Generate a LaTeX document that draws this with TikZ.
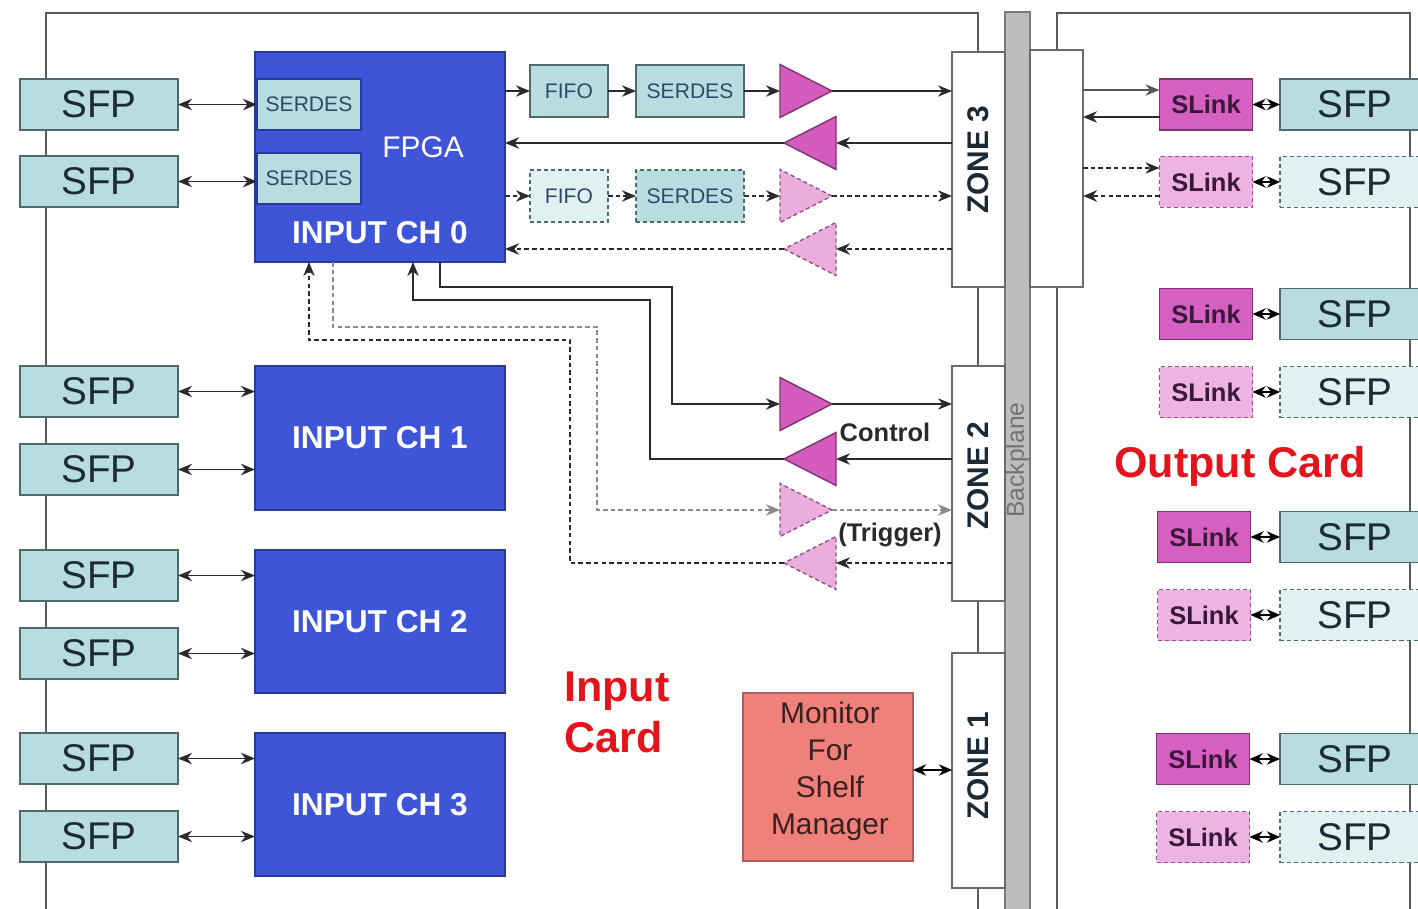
\documentclass[tikz,border=0pt]{standalone}
\usepackage{fontspec}
\setmainfont{Liberation Sans}
\usetikzlibrary{arrows.meta,shapes.geometric}
\definecolor{sfpfill}{HTML}{B8DDE1}
\definecolor{sfpfilld}{HTML}{E0F1F2}
\definecolor{sfpline}{HTML}{4F6A6E}
\definecolor{sfptext}{HTML}{1C2A36}
\definecolor{smalltext}{HTML}{2E4A66}
\definecolor{fpgablue}{HTML}{3E55D8}
\definecolor{fpgaline}{HTML}{2A3A9A}
\definecolor{trifill}{HTML}{D35CBE}
\definecolor{trifilld}{HTML}{EBADDC}
\definecolor{triline}{HTML}{7E3472}
\definecolor{trilined}{HTML}{93508A}
\definecolor{slfill}{HTML}{D660C2}
\definecolor{slfilld}{HTML}{EDB3E2}
\definecolor{sltext}{HTML}{3A1838}
\definecolor{mon}{HTML}{F0817A}
\definecolor{monline}{HTML}{B25E5E}
\definecolor{montext}{HTML}{3A2020}
\definecolor{cardline}{HTML}{5A5A5A}
\definecolor{zoneline}{HTML}{6A6A6A}
\definecolor{bpfill}{HTML}{BDBDBD}
\definecolor{bpline}{HTML}{7A7A7A}
\definecolor{redtxt}{HTML}{E3141B}
\definecolor{conn}{HTML}{2A2A2A}
\definecolor{connlight}{HTML}{8A8A8A}
\newcommand\myfs[2]{\fontsize{#1pt}{#2pt}\selectfont}
\begin{document}
\begin{tikzpicture}[x=0.02cm,y=-0.02cm,
 sz/.style 2 args={minimum width=#1*0.02cm, minimum height=#2*0.02cm},
 box/.style={rectangle, inner sep=0pt, outer sep=0pt, line width=0.9pt},
 sfpbox/.style={box, sz={158}{51}, draw=sfpline, fill=sfpfill, text=sfptext, font=\myfs{22}{24}},
 sfpdash/.style={sfpbox, fill=sfpfilld, dash pattern=on 2.3pt off 1.7pt},
 chan/.style={box, draw=fpgaline, fill=fpgablue, text=white, font=\bfseries\myfs{18}{20}},
 smallbox/.style={box, draw=sfpline, fill=sfpfill, text=smalltext, font=\myfs{12}{14}},
 smalldash/.style={smallbox, dash pattern=on 2.3pt off 1.7pt},
 tri/.style={isosceles triangle, isosceles triangle stretches, sz={53}{52}, inner sep=0pt, outer sep=0pt, line width=0.8pt, draw=triline, fill=trifill},
 tridash/.style={tri, draw=trilined, fill=trifilld, dash pattern=on 2.3pt off 1.7pt},
 trileft/.style={shape border rotate=180},
 zonebox/.style={box, sz={53}{235}, draw=zoneline, fill=white, line width=0.8pt},
 zonetxt/.style={rotate=90, font=\bfseries\myfs{17}{19}, text=sfptext},
 slbox/.style={box, sz={93}{51}, draw=triline, fill=slfill, text=sltext, font=\bfseries\myfs{14.5}{16}},
 sldash/.style={slbox, draw=trilined, fill=slfilld, dash pattern=on 2.3pt off 1.7pt},
 arr/.style={draw=conn, line width=0.8pt, -{Stealth[length=8pt,width=6.5pt]}},
 arrthick/.style={arr, line width=1.4pt},
 darr/.style={arr, dash pattern=on 2.6pt off 1.8pt},
 darrthick/.style={darr, line width=1.3pt},
 lightdarr/.style={darr, draw=connlight},
 biarr/.style={draw=conn, line width=0.8pt, {Stealth[length=8pt,width=6.5pt]}-{Stealth[length=8pt,width=6.5pt]}},
 sbiarr/.style={draw=black, line width=0.8pt, {Stealth[length=7.5pt,width=6.5pt]}-{Stealth[length=7.5pt,width=6.5pt]}},
 card/.style={draw=cardline, line width=1.1pt},
 redlbl/.style={text=redtxt, font=\bfseries\myfs{24.5}{29}},
 lbl/.style={text=conn, font=\bfseries\myfs{14.5}{17}}
]
\useasboundingbox (0,0) rectangle (1418,909);
\clip (0,0) rectangle (1418,909);

% card outlines
\draw[card] (46,915) -- (46,13) -- (978,13) -- (978,915);
\draw[card] (1057,915) -- (1057,13) -- (1410,13) -- (1410,915);

% backplane
\node[box, draw=bpline, fill=bpfill, sz={25}{905}, anchor=north west] (bp) at (1005,12) {};
\node[rotate=90, text=black!55, font=\myfs{14}{16}] (bptxt) at (1017.5,460) {Backplane};

% output card connector block
\node[box, draw=zoneline, fill=white, line width=0.8pt, sz={53}{237}, anchor=north west] (outbox) at (1030,50) {};

% zones
\node[zonebox, anchor=north west] (z3) at (952,52) {};
\node[zonebox, anchor=north west] (z2) at (952,366) {};
\node[zonebox, anchor=north west] (z1) at (952,653) {};
\node[zonetxt] (z3t) at (978,160) {ZONE 3};
\node[zonetxt] (z2t) at (978,476) {ZONE 2};
\node[zonetxt] (z1t) at (978,766) {ZONE 1};

% left SFPs
\foreach \i/\y in {1/104.5, 2/181.5, 3/391.5, 4/469.5, 5/575.5, 6/653.5, 7/758.5, 8/836.5}
  \node[sfpbox] (sfpL\i) at (99,\y) {SFP};

% input channels
\node[chan, anchor=north west, sz={250}{210}] (ch0) at (255,52) {};
\node[chan, anchor=north west, sz={250}{144}] (ch1) at (255,366) {INPUT CH 1};
\node[chan, anchor=north west, sz={250}{143}] (ch2) at (255,550) {INPUT CH 2};
\node[chan, anchor=north west, sz={250}{143}] (ch3) at (255,733) {INPUT CH 3};
\node[smallbox, draw=fpgaline, sz={104}{51}, anchor=north west] (sd0a) at (257,79) {SERDES};
\node[smallbox, draw=fpgaline, sz={104}{51}, anchor=north west] (sd0b) at (257,153) {SERDES};
\node[text=white, font=\myfs{17}{19}] (fpgatxt) at (423,147) {FPGA};
\node[text=white, font=\bfseries\myfs{18}{20}] (ch0txt) at (380,233) {INPUT CH 0};

% SFP <-> channel links
\draw[biarr] (sfpL1.east) -- (sfpL1.east -| sd0a.west);
\draw[biarr] (sfpL2.east) -- (sfpL2.east -| sd0b.west);
\draw[biarr] (sfpL3.east) -- (sfpL3.east -| ch1.west);
\draw[biarr] (sfpL4.east) -- (sfpL4.east -| ch1.west);
\draw[biarr] (sfpL5.east) -- (sfpL5.east -| ch2.west);
\draw[biarr] (sfpL6.east) -- (sfpL6.east -| ch2.west);
\draw[biarr] (sfpL7.east) -- (sfpL7.east -| ch3.west);
\draw[biarr] (sfpL8.east) -- (sfpL8.east -| ch3.west);

% data rows to zone 3
\node[smallbox, sz={78}{52}] (fifo1) at (569,91) {FIFO};
\node[smallbox, sz={108}{52}] (ser1) at (690,91) {SERDES};
\node[tri, anchor=lower side] (t1) at (780,91) {};
\node[tri, trileft, anchor=lower side] (t2) at (836,143) {};
\node[smalldash, fill=sfpfilld, sz={78}{52}] (fifo2) at (569,196) {FIFO};
\node[smalldash, sz={108}{52}] (ser2) at (690,196) {SERDES};
\node[tridash, anchor=lower side] (t3) at (780,196) {};
\node[tridash, trileft, anchor=lower side] (t4) at (836,249) {};

\draw[arr] (ch0.east |- fifo1.west) -- (fifo1.west);
\draw[arr] (fifo1.east) -- (ser1.west);
\draw[arr] (ser1.east) -- (t1.lower side);
\draw[arr] (t1.apex) -- (t1.apex -| z3.west);
\draw[arrthick] (z3.west |- t2.lower side) -- (t2.lower side);
\draw[arrthick] (t2.apex) -- (t2.apex -| ch0.east);
\draw[darr] (ch0.east |- fifo2.west) -- (fifo2.west);
\draw[darr] (fifo2.east) -- (ser2.west);
\draw[darr] (ser2.east) -- (t3.lower side);
\draw[darr] (t3.apex) -- (t3.apex -| z3.west);
\draw[darrthick] (z3.west |- t4.lower side) -- (t4.lower side);
\draw[darrthick] (t4.apex) -- (t4.apex -| ch0.east);

% control and trigger
\node[tri, anchor=lower side] (t5) at (780,404) {};
\node[tri, trileft, anchor=lower side] (t6) at (836,459) {};
\node[tridash, anchor=lower side] (t7) at (780,510) {};
\node[tridash, trileft, anchor=lower side] (t8) at (836,563) {};
\coordinate (xA) at (440,0);
\coordinate (xB) at (413,0);
\coordinate (xC) at (333,0);
\coordinate (xD) at (309,0);
\draw[arr] (ch0.south -| xA) |- (672,287) |- (t5.lower side);
\draw[arr] (t5.apex) -- (t5.apex -| z2.west);
\draw[arr] (z2.west |- t6.lower side) -- (t6.lower side);
\draw[arr] (t6.apex) -| (650,300) -| (ch0.south -| xB);
\draw[lightdarr] (ch0.south -| xC) |- (597,327) |- (t7.lower side);
\draw[lightdarr] (t7.apex) -- (t7.apex -| z2.west);
\draw[darr] (z2.west |- t8.lower side) -- (t8.lower side);
\draw[darr] (t8.apex) -| (570,340) -| (ch0.south -| xD);
\node[lbl] (ctl) at (885,432) {Control};
\node[lbl] (trg) at (890,535) {(Trigger)};

% monitor
\node[box, draw=monline, fill=mon, sz={170}{168}, anchor=north west] (monbox) at (743,693) {};
\node[align=center, text=montext, font=\myfs{17}{21}] (montxt) at (830,771) {Monitor\\For\\Shelf\\Manager};
\coordinate (ym) at (0,770);
\draw[sbiarr] (monbox.east |- ym) -- (z1.west |- ym);

% card labels
\node[redlbl, align=left] (incard) at (617,712) {Input\\Card};
\node[redlbl] (outcard) at (1240,466) {Output Card};

% output card SLinks and SFPs
\node[slbox] (slA) at (1206,104.5) {SLink};
\node[sldash] (slB) at (1206,182) {SLink};
\node[slbox] (slC) at (1206,314) {SLink};
\node[sldash] (slD) at (1206,392) {SLink};
\node[slbox] (slE) at (1204,537) {SLink};
\node[sldash] (slF) at (1204,615) {SLink};
\node[slbox] (slG) at (1203,759) {SLink};
\node[sldash] (slH) at (1203,837) {SLink};
\node[sfpbox, sz={150}{51}, anchor=west] (sfpA) at (1280,104.5) {SFP};
\node[sfpdash, sz={150}{51}, anchor=west] (sfpB) at (1280,182) {SFP};
\node[sfpbox, sz={150}{51}, anchor=west] (sfpC) at (1280,314) {SFP};
\node[sfpdash, sz={150}{51}, anchor=west] (sfpD) at (1280,392) {SFP};
\node[sfpbox, sz={150}{51}, anchor=west] (sfpE) at (1280,537) {SFP};
\node[sfpdash, sz={150}{51}, anchor=west] (sfpF) at (1280,615) {SFP};
\node[sfpbox, sz={150}{51}, anchor=west] (sfpG) at (1280,759) {SFP};
\node[sfpdash, sz={150}{51}, anchor=west] (sfpH) at (1280,837) {SFP};
\foreach \r in {A,B,C,D,E,F,G,H}
  \draw[sbiarr] (sl\r.east) -- (sfp\r.west);

\coordinate (yo1) at (0,90);
\coordinate (yo2) at (0,117);
\coordinate (yo3) at (0,168);
\coordinate (yo4) at (0,196);
\draw[arr, draw=conn!80] (outbox.east |- yo1) -- (slA.west |- yo1);
\draw[arrthick] (slA.west |- yo2) -- (outbox.east |- yo2);
\draw[darr] (outbox.east |- yo3) -- (slB.west |- yo3);
\draw[darrthick] (slB.west |- yo4) -- (outbox.east |- yo4);
\end{tikzpicture}
\end{document}
